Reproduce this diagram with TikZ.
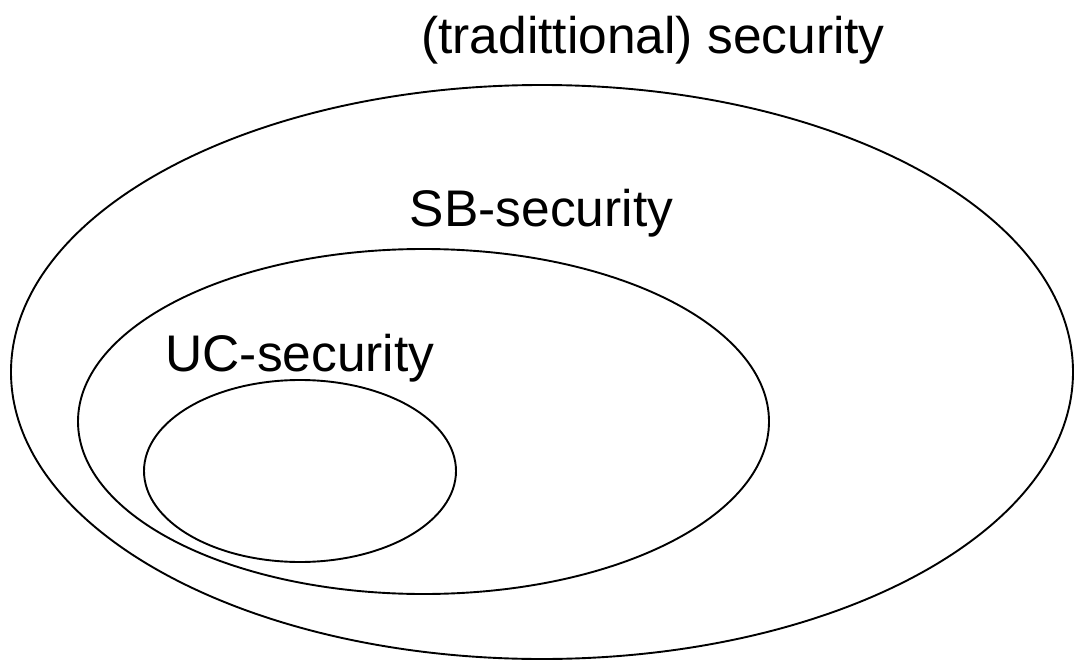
\documentclass[tikz,border=0pt]{standalone}
\usepackage{fontspec}
\setmainfont{Liberation Sans}
\begin{document}
\begin{tikzpicture}[x=1pt,y=-1pt,
  setline/.style={draw=black,line width=1.9pt},
  setlabel/.style={anchor=base,inner sep=0pt,font=\fontsize{51.5pt}{62pt}\selectfont}]
  \useasboundingbox (0,0) rectangle (1074,661);
  % nested sets, outermost first
  \draw[setline] (542,372) ellipse [x radius=531, y radius=287];
  \draw[setline] (423.5,421.5) ellipse [x radius=345.5, y radius=172.5];
  \draw[setline] (300,471) ellipse [x radius=156, y radius=91];
  % set names
  \node[setlabel] (trad) at (653,54) {(tradittional) security};
  \node[setlabel] (sb) at (541.5,226) {SB-security};
  \node[setlabel] (uc) at (300,371) {UC-security};
\end{tikzpicture}
\end{document}
